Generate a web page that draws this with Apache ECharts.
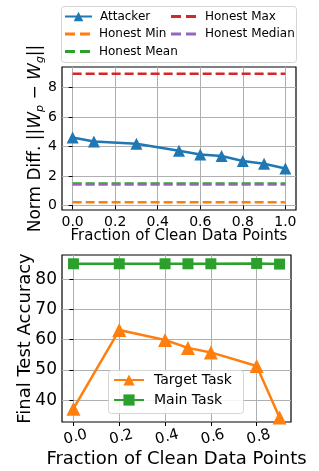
<!DOCTYPE html>
<html>
<head>
<meta charset="utf-8">
<script src="https://cdn.jsdelivr.net/npm/echarts@6/dist/echarts.min.js"></script>
<style>
  html, body { margin: 0; padding: 0; background: #fff; }
  #chart { width: 319px; height: 471px; }
</style>
</head>
<body>
<div id="chart"></div>
<script>
// top panel: norm difference vs fraction of clean data
var attackerX = [0.0, 0.1, 0.3, 0.5, 0.6, 0.7, 0.8, 0.9, 1.0];
var attackerY = [4.62, 4.35, 4.2, 3.72, 3.47, 3.36, 3.03, 2.84, 2.52];
var honestMin = 0.23;
var honestMax = 8.95;
var honestMean = 1.5;
var honestMedian = 1.43;
var topXTicks = [0, 0.2, 0.4, 0.6, 0.8, 1.0];
var topYTicks = [0, 2, 4, 6, 8];

// bottom panel: accuracy vs fraction of clean data
var accX = [0.0, 0.2, 0.4, 0.5, 0.6, 0.8, 0.9];
var targetAcc = [37.2, 63.2, 59.9, 57.3, 55.8, 51.3, 34.3];
var mainAcc = [85.1, 85.1, 85.1, 85.1, 85.1, 85.2, 85.0];
var botXTicks = [0, 0.2, 0.4, 0.6, 0.8];
var botYTicks = [40, 50, 60, 70, 80];

var FONT = 'DejaVu Sans';
var gridColor = '#b0b0b0';
var dashIcon = 'path://M0,0h10v3h-10z M15,0h10v3h-10z';

function pairs(xs, ys) {
    var out = [];
    for (var i = 0; i < xs.length; i++) out.push([xs[i], ys[i]]);
    return out;
}
function flat(v) {
    return [[0, v], [1, v]];
}
function dashed(name, color, v) {
    return {
        name: name, type: 'line', xAxisIndex: 0, yAxisIndex: 0,
        data: flat(v), symbol: 'none', silent: true,
        lineStyle: {color: color, width: 2.5, type: [9, 4]},
        itemStyle: {color: color}
    };
}
function oneLegend(name, left, cy, opts) {
    var lh = opts.lineHeight;
    return {
        data: [{name: name, icon: opts.icon}], left: left, top: cy - lh / 2, padding: 0,
        itemWidth: opts.w, itemHeight: opts.h, z: 10, symbolKeepAspect: false,
        textStyle: {fontFamily: FONT, fontSize: opts.size, color: '#000', lineHeight: lh,
            padding: [0, 0, 0, opts.gap]}
    };
}
function xAxisOf(idx, min, max, ticks, rotate, size, labelSize, gap) {
    return {
        type: 'value', gridIndex: idx, min: min, max: max,
        name: 'Fraction of Clean Data Points', nameLocation: 'middle',
        nameGap: gap, nameMoveOverlap: false,
        nameTextStyle: {fontFamily: FONT, fontSize: size, color: '#000'},
        axisLine: {show: false},
        axisTick: {show: true, length: 4, lineStyle: {color: '#000'}, customValues: ticks},
        axisLabel: {
            customValues: ticks, color: '#000', fontFamily: FONT, fontSize: labelSize,
            rotate: rotate, margin: rotate ? 8 : 5, align: 'center', verticalAlign: 'top',
            formatter: function (v) { return v.toFixed(1); }
        },
        splitLine: {show: true, lineStyle: {color: gridColor, width: 1}}
    };
}
function yAxisOf(idx, min, max, ticks, name, size, labelSize, gap) {
    return {
        type: 'value', gridIndex: idx, min: min, max: max,
        name: name, nameLocation: 'middle', nameGap: gap, nameMoveOverlap: false,
        nameTextStyle: {
            fontFamily: FONT, fontSize: size, color: '#000',
            rich: {
                n: {fontFamily: FONT, fontSize: size, color: '#000'},
                i: {fontFamily: FONT, fontSize: size, color: '#000', fontStyle: 'italic'},
                s: {fontFamily: FONT, fontSize: 11, color: '#000', fontStyle: 'italic', padding: [9, 0, 0, 0]}
            }
        },
        axisLine: {show: false},
        axisTick: {show: true, length: 4, lineStyle: {color: '#000'}, customValues: ticks},
        axisLabel: {customValues: ticks, color: '#000', fontFamily: FONT, fontSize: labelSize, margin: 5},
        splitLine: {show: true, lineStyle: {color: gridColor, width: 1}}
    };
}

var topLeg = {w: 27, h: 12, size: 12, lineHeight: 14, gap: 3};
var topDash = {w: 25, h: 3, size: 12, lineHeight: 14, gap: 4, icon: dashIcon};
var botLeg = {w: 30, h: 14, size: 14, lineHeight: 16, gap: 5};

var myChart = echarts.init(document.getElementById('chart'));
var option = {
    animation: false,
    backgroundColor: '#fff',
    grid: [
        {left: 62, top: 67, width: 234, height: 143, show: true, borderColor: '#000', borderWidth: 1.2},
        {left: 62, top: 255, width: 229, height: 167, show: true, borderColor: '#000', borderWidth: 1.2}
    ],
    xAxis: [
        xAxisOf(0, -0.05, 1.05, topXTicks, 0, 15, 14, 19),
        xAxisOf(1, -0.05, 0.95, botXTicks, 15, 18, 15, 28)
    ],
    yAxis: [
        yAxisOf(0, -0.3, 9.4, topYTicks,
            '{n|Norm Diff. ||}{i|W}{s|p}{n| − }{i|W}{s|g}{n|||}', 17, 14, 16),
        yAxisOf(1, 32.8, 88, botYTicks, 'Final Test Accuracy', 18, 17, 27.5)
    ],
    graphic: [
        {type: 'rect', z: 3, shape: {x: 61.5, y: 6.5, width: 235, height: 56, r: 3},
            style: {fill: '#fff', stroke: '#d5d5d5', lineWidth: 1}},
        {type: 'rect', z: 3, shape: {x: 108.5, y: 370.5, width: 135, height: 43, r: 3},
            style: {fill: 'rgba(255,255,255,0.85)', stroke: '#d5d5d5', lineWidth: 1}}
    ],
    legend: [
        oneLegend('Attacker', 64, 16.5, topLeg),
        oneLegend('Honest Min', 65, 34, topDash),
        oneLegend('Honest Mean', 65, 51.5, topDash),
        oneLegend('Honest Max', 171, 16.5, topDash),
        oneLegend('Honest Median', 171, 34, topDash),
        oneLegend('Target Task', 113, 380, botLeg),
        oneLegend('Main Task', 113, 400, botLeg)
    ],
    series: [
        {
            name: 'Attacker', type: 'line', xAxisIndex: 0, yAxisIndex: 0,
            data: pairs(attackerX, attackerY),
            symbol: 'triangle', symbolSize: 12, z: 5,
            lineStyle: {color: '#1f77b4', width: 2.5},
            itemStyle: {color: '#1f77b4'}
        },
        dashed('Honest Min', '#ff7f0e', honestMin),
        dashed('Honest Mean', '#2ca02c', honestMean),
        dashed('Honest Max', '#d62728', honestMax),
        dashed('Honest Median', '#9467bd', honestMedian),
        {
            name: 'Target Task', type: 'line', xAxisIndex: 1, yAxisIndex: 1,
            data: pairs(accX, targetAcc),
            symbol: 'triangle', symbolSize: 14, z: 5,
            lineStyle: {color: '#ff7f0e', width: 2.5},
            itemStyle: {color: '#ff7f0e'}
        },
        {
            name: 'Main Task', type: 'line', xAxisIndex: 1, yAxisIndex: 1,
            data: pairs(accX, mainAcc),
            symbol: 'rect', symbolSize: 11, z: 5,
            lineStyle: {color: '#2ca02c', width: 2.5},
            itemStyle: {color: '#2ca02c'}
        }
    ]
};
myChart.setOption(option);
</script>
</body>
</html>
